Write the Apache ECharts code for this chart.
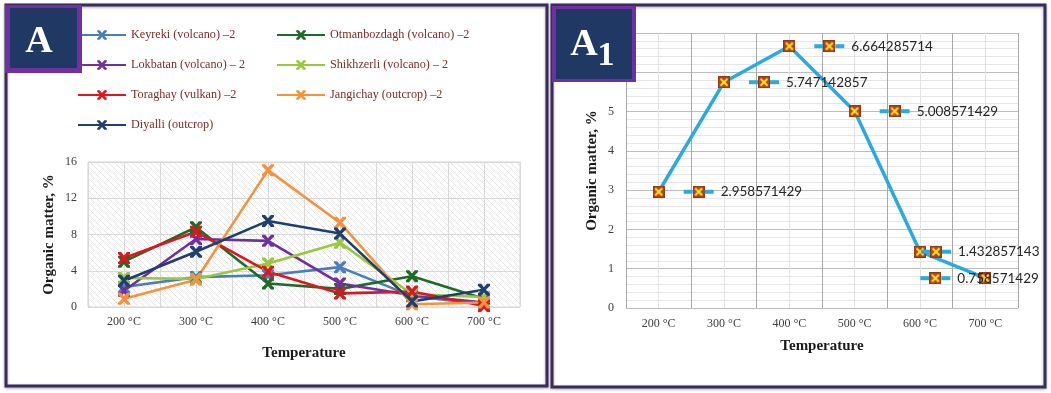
<!DOCTYPE html>
<html>
<head>
<meta charset="utf-8">
<script src="https://cdn.jsdelivr.net/npm/echarts@6/dist/echarts.min.js"></script>
<style>
  html, body { margin: 0; padding: 0; background: #fff; }
  #chart { width: 1051px; height: 393px; }
</style>
</head>
<body>
<div id="chart"></div>
<script>
// categories and values
const categories = ['200 °C', '300 °C', '400 °C', '500 °C', '600 °C', '700 °C'];
const keyreki      = [2.2, 3.3, 3.5, 4.4, 1.2, 0.3];
const otmanbozdagh = [5.0, 8.8, 2.6, 2.0, 3.4, 0.9];
const lokbatan     = [1.8, 7.5, 7.3, 2.6, 1.3, 0.5];
const shikhzerli   = [3.2, 3.1, 4.8, 7.1, 1.4, 1.1];
const toraghay     = [5.4, 8.3, 3.9, 1.5, 1.7, 0.1];
const jangichay    = [0.9, 3.0, 15.1, 9.3, 0.3, 0.5];
const diyalli      = [2.9, 6.1, 9.5, 8.1, 0.6, 1.9];
const averages     = [2.958571429, 5.747142857, 6.664285714, 5.008571429, 1.432857143, 0.758571429];

const serif = '"Liberation Serif", "DejaVu Serif", serif';
const xSymbol = 'path://M0,0 L2.6,0 5,2.8 7.4,0 10,0 10,1.6 6.6,5 10,8.4 10,10 7.4,10 5,7.2 2.6,10 0,10 0,8.4 3.4,5 0,1.6 Z';

// hatched plot background like the excel pattern fill
function hatch() {
  const c = document.createElement('canvas');
  c.width = 6; c.height = 6;
  const g = c.getContext('2d');
  g.fillStyle = '#ffffff';
  g.fillRect(0, 0, 6, 6);
  g.strokeStyle = '#e4e4e4';
  g.lineWidth = 1;
  g.beginPath();
  g.moveTo(0, 0); g.lineTo(6, 6);
  g.moveTo(-3, 3); g.lineTo(3, 9);
  g.moveTo(3, -3); g.lineTo(9, 3);
  g.stroke();
  return c;
}

// square marker with yellow cross (right chart)
function marker(size) {
  const c = document.createElement('canvas');
  c.width = size; c.height = size;
  const g = c.getContext('2d');
  g.fillStyle = '#b4461e';
  g.fillRect(0, 0, size, size);
  g.strokeStyle = '#8c3a1c';
  g.lineWidth = 1;
  g.strokeRect(0.5, 0.5, size - 1, size - 1);
  g.strokeStyle = '#ffe21a';
  g.lineWidth = 2;
  g.beginPath();
  g.moveTo(2.5, 2.5); g.lineTo(size - 2.5, size - 2.5);
  g.moveTo(size - 2.5, 2.5); g.lineTo(2.5, size - 2.5);
  g.stroke();
  return c;
}
const mk = marker(12);

function leftSeries(name, data, color) {
  return {
    name: name,
    type: 'line',
    xAxisIndex: 0,
    yAxisIndex: 0,
    data: data,
    symbol: xSymbol,
    symbolSize: 12,
    lineStyle: { color: color, width: 2.6 },
    itemStyle: { color: color },
    emphasis: { disabled: true }
  };
}

const names = ['Keyreki (volcano) –2', 'Otmanbozdagh (volcano) –2', 'Lokbatan (volcano) – 2',
  'Shikhzerli (volcano) – 2', 'Toraghay (vulkan) –2', 'Jangichay (outcrop) –2', 'Diyalli (outcrop)'];

const chart = echarts.init(document.getElementById('chart'));

const legendText = { fontFamily: serif, fontSize: 12.2, color: '#7b2d26' };

const option = {
  backgroundColor: '#ffffff',
  animation: false,
  legend: [
    {
      left: 77, top: 29, padding: 0, orient: 'vertical', itemWidth: 48, itemHeight: 12, itemGap: 18,
      data: [names[0], names[2], names[4], names[6]], textStyle: legendText
    },
    {
      left: 276, top: 29, padding: 0, orient: 'vertical', itemWidth: 48, itemHeight: 12, itemGap: 18,
      data: [names[1], names[3], names[5]], textStyle: legendText
    }
  ],
  grid: [
    {
      left: 88, top: 162, width: 432, height: 145, show: true,
      backgroundColor: { image: hatch(), repeat: 'repeat' },
      borderColor: '#d4d4d4', borderWidth: 1
    },
    { left: 626, top: 33, width: 392, height: 275 }
  ],
  xAxis: [
    {
      type: 'category', gridIndex: 0, data: categories, z: 2,
      axisLine: { show: false }, axisTick: { show: false },
      axisLabel: { fontFamily: serif, fontSize: 12, color: '#404040', margin: 9 },
      splitLine: { show: false },
      name: 'Temperature', nameLocation: 'middle', nameGap: 39,
      nameTextStyle: { fontFamily: serif, fontSize: 15, fontWeight: 'bold', color: '#1a1a1a' }
    },
    {
      type: 'value', gridIndex: 0, min: 0, max: 6, interval: 0.5,
      axisLine: { show: false }, axisTick: { show: false }, axisLabel: { show: false },
      splitLine: { show: true, lineStyle: { color: '#d9d9d9' } }
    },
    {
      type: 'category', gridIndex: 1, data: categories, z: 2,
      axisLine: { show: true, lineStyle: { color: '#bfbfbf' } }, axisTick: { show: false },
      axisLabel: { fontFamily: serif, fontSize: 12, color: '#404040', margin: 10 },
      splitLine: { show: true, lineStyle: { color: '#a8a8a8' } },
      name: 'Temperature', nameLocation: 'middle', nameGap: 31,
      nameTextStyle: { fontFamily: serif, fontSize: 15, fontWeight: 'bold', color: '#1a1a1a' }
    },
    {
      type: 'value', gridIndex: 1, min: 0, max: 6, interval: 0.5,
      axisLine: { show: false }, axisTick: { show: false }, axisLabel: { show: false },
      splitLine: { show: true, lineStyle: { color: '#e2e2e2' } }
    }
  ],
  yAxis: [
    {
      type: 'value', gridIndex: 0, min: 0, max: 16, interval: 4,
      axisLine: { show: false }, axisTick: { show: false },
      axisLabel: { fontFamily: serif, fontSize: 12, color: '#404040', margin: 11 },
      splitLine: { show: true, lineStyle: { color: '#d9d9d9' } },
      name: 'Organic matter, %', nameLocation: 'middle', nameGap: 31,
      nameTextStyle: { fontFamily: serif, fontSize: 15, fontWeight: 'bold', color: '#1a1a1a' }
    },
    {
      type: 'value', gridIndex: 1, min: 0, max: 7, interval: 1,
      axisLine: { show: true, lineStyle: { color: '#bfbfbf' } }, axisTick: { show: false },
      axisLabel: { fontFamily: serif, fontSize: 12, color: '#404040', margin: 12 },
      splitLine: { show: true, lineStyle: { color: '#bdbdbd' } },
      minorTick: { show: false, splitNumber: 5 },
      minorSplitLine: { show: true, lineStyle: { color: '#e6e6e6' } },
      name: 'Organic matter, %', nameLocation: 'middle', nameGap: 26,
      nameTextStyle: { fontFamily: serif, fontSize: 15, fontWeight: 'bold', color: '#1a1a1a' }
    }
  ],
  series: [
    leftSeries(names[0], keyreki, '#4a7ebb'),
    leftSeries(names[1], otmanbozdagh, '#1f6b25'),
    leftSeries(names[2], lokbatan, '#7030a0'),
    leftSeries(names[3], shikhzerli, '#98c93c'),
    leftSeries(names[4], toraghay, '#e0161e'),
    leftSeries(names[5], jangichay, '#f7923a'),
    leftSeries(names[6], diyalli, '#1f3f70'),
    {
      name: 'Average',
      type: 'line',
      xAxisIndex: 2,
      yAxisIndex: 1,
      symbol: 'image://' + mk.toDataURL(),
      symbolSize: 12,
      lineStyle: { color: '#29abe2', width: 3.5 },
      itemStyle: { color: '#29abe2' },
      emphasis: { disabled: true },
      label: {
        show: true,
        position: 'right',
        distance: 19,
        formatter: p => '{l|}{m|}{l|}{v|' + p.value + '}',
        rich: {
          l: { width: 9, height: 4, backgroundColor: '#29abe2' },
          m: { width: 12, height: 12, backgroundColor: { image: mk } },
          v: { fontFamily: 'Lato, "Open Sans", sans-serif', fontSize: 13.5, color: '#262626', padding: [0, 0, 0, 7] }
        }
      },
      data: averages.map((v, i) => {
        if (i === 4) return { value: v, label: { offset: [-24, 0] } };
        if (i === 5) return { value: v, label: { offset: [-90, 0] } };
        return v;
      })
    }
  ],
  graphic: [
    { type: 'rect', z: 100, shape: { x: 6, y: 5, width: 541, height: 381 },
      style: { fill: 'none', stroke: '#3b2a5c', lineWidth: 3, shadowBlur: 3, shadowColor: 'rgba(0,0,0,0.35)', shadowOffsetY: 1 } },
    { type: 'rect', z: 100, shape: { x: 552, y: 5, width: 493, height: 382 },
      style: { fill: 'none', stroke: '#3b2a5c', lineWidth: 3, shadowBlur: 3, shadowColor: 'rgba(0,0,0,0.35)', shadowOffsetY: 1 } },
    { type: 'rect', z: 101, shape: { x: 5, y: 5, width: 77, height: 68 }, style: { fill: '#7030a0' } },
    { type: 'rect', z: 102, shape: { x: 10, y: 8, width: 67, height: 60 }, style: { fill: '#1f3864' } },
    { type: 'text', z: 103, x: 39, y: 42,
      style: { text: 'A', fontFamily: serif, fontSize: 38, fontWeight: 'bold', fill: '#ffffff', textAlign: 'center', textVerticalAlign: 'middle' } },
    { type: 'rect', z: 101, shape: { x: 552, y: 6, width: 84, height: 76 }, style: { fill: '#7030a0' } },
    { type: 'rect', z: 102, shape: { x: 556, y: 9, width: 76, height: 70 }, style: { fill: '#1f3864' } },
    { type: 'text', z: 103, x: 584, y: 45,
      style: { text: 'A', fontFamily: serif, fontSize: 38, fontWeight: 'bold', fill: '#ffffff', textAlign: 'center', textVerticalAlign: 'middle' } },
    { type: 'text', z: 103, x: 606, y: 56,
      style: { text: '1', fontFamily: serif, fontSize: 34, fontWeight: 'bold', fill: '#ffffff', textAlign: 'center', textVerticalAlign: 'middle' } }
  ]
};

chart.setOption(option);
</script>
</body>
</html>
